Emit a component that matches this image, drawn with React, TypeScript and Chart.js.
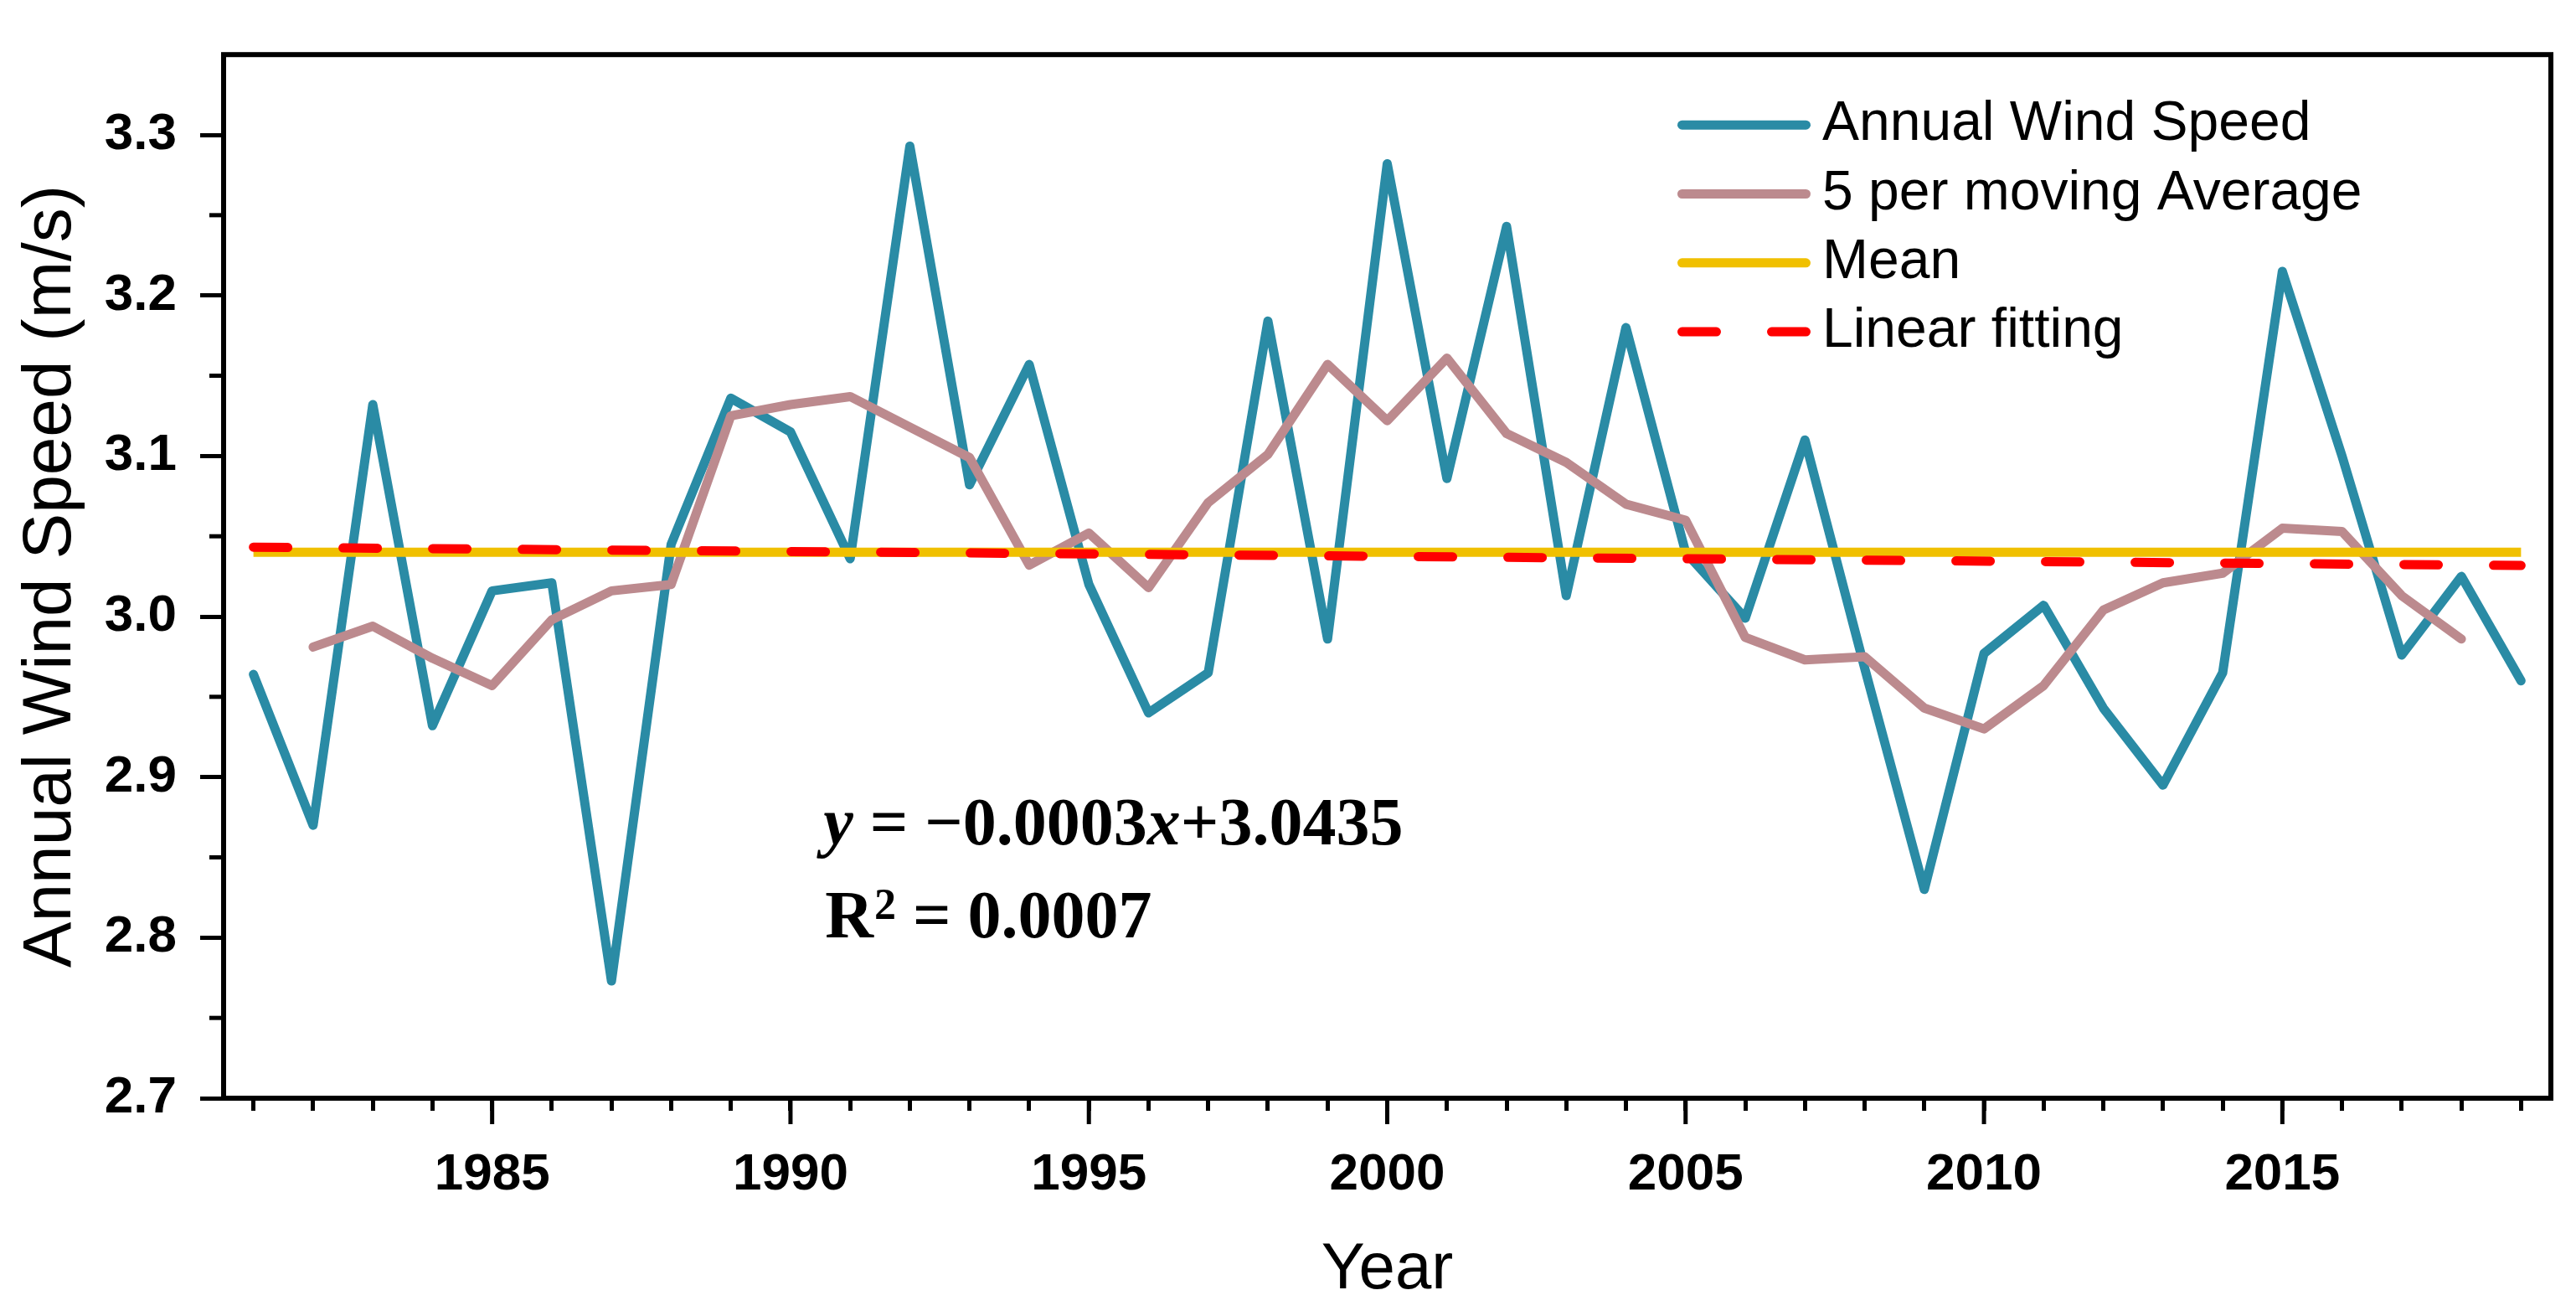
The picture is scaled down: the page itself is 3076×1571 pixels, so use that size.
import React, { useEffect, useRef } from 'react';
import { Chart, registerables } from 'chart.js';

Chart.register(...registerables);

// ---------------- data ----------------
const years = [
  1981, 1982, 1983, 1984, 1985, 1986, 1987, 1988, 1989, 1990,
  1991, 1992, 1993, 1994, 1995, 1996, 1997, 1998, 1999, 2000,
  2001, 2002, 2003, 2004, 2005, 2006, 2007, 2008, 2009, 2010,
  2011, 2012, 2013, 2014, 2015, 2016, 2017, 2018, 2019,
];
const annualWindSpeed = [
  2.964, 2.870, 3.132, 2.932, 3.016, 3.021, 2.773, 3.045, 3.136, 3.115,
  3.036, 3.293, 3.082, 3.157, 3.020, 2.940, 2.965, 3.184, 2.986, 3.282,
  3.086, 3.243, 3.013, 3.180, 3.040, 2.999, 3.110, 2.968, 2.830, 2.977,
  3.007, 2.943, 2.895, 2.965, 3.215, 3.100, 2.976, 3.025, 2.960,
];
const movingAvgYears = [
  1982, 1983, 1984, 1985, 1986, 1987, 1988, 1989, 1990,
  1991, 1992, 1993, 1994, 1995, 1996, 1997, 1998, 1999, 2000,
  2001, 2002, 2003, 2004, 2005, 2006, 2007, 2008, 2009, 2010,
  2011, 2012, 2013, 2014, 2015, 2016, 2017, 2018,
];
const movingAverage = [
  2.981, 2.994, 2.974, 2.957, 2.998, 3.016, 3.020, 3.125, 3.132,
  3.137, 3.118, 3.099, 3.032, 3.052, 3.018, 3.071, 3.101, 3.157, 3.122,
  3.161, 3.114, 3.096, 3.070, 3.060, 2.987, 2.973, 2.975, 2.943, 2.930,
  2.957, 3.004, 3.021, 3.027, 3.055, 3.053, 3.013, 2.986,
];
const meanYears = [1981, 2019];
const meanValues = [3.04, 3.04];
const fitYears = [1981, 2019];
const fitValues = [3.0432, 3.0318];

const seriesLabels = ['Annual Wind Speed', '5 per moving Average', 'Mean', 'Linear fitting'];
const yTickValues = [2.7, 2.8, 2.9, 3.0, 3.1, 3.2, 3.3];
const yMinorTickValues = [2.75, 2.85, 2.95, 3.05, 3.15, 3.25];
const xMajorTickValues = [1985, 1990, 1995, 2000, 2005, 2010, 2015];
const xTitle = 'Year';
const yTitle = 'Annual Wind Speed (m/s)';
const eqLine1 = [
  { t: 'y', italic: true },
  { t: ' = \u22120.0003', italic: false },
  { t: 'x', italic: true },
  { t: '+3.0435', italic: false },
];
const eqR = 'R';
const eqSup = '2';
const eqR2Value = ' = 0.0007';
const eqAnchorYear = 1990.55;
const eqLine1Value = 2.858;
const eqLine2Value = 2.8;

// ---------------- styles ----------------
const SANS = '"Liberation Sans", Arial, sans-serif';
const SERIF = '"Liberation Serif", "Times New Roman", serif';
const BLUE = '#2A8BA5';
const PINK = '#BC8A8E';
const YELLOW = '#F0C000';
const RED = '#FF0000';

const toPoints = (xs: number[], ys: number[]) => xs.map((x, i) => ({ x, y: ys[i] }));

const framePlugin = {
  id: 'frameAndTicks',
  afterDraw(chart: any) {
    const { ctx, chartArea: a, scales } = chart;
    ctx.save();
    ctx.strokeStyle = '#000';
    ctx.lineWidth = 6;
    ctx.strokeRect(a.left, a.top, a.right - a.left, a.bottom - a.top);
    ctx.lineWidth = 5;
    yMinorTickValues.forEach((v) => {
      const p = scales.y.getPixelForValue(v);
      ctx.beginPath();
      ctx.moveTo(a.left - 17, p);
      ctx.lineTo(a.left, p);
      ctx.stroke();
    });
    xMajorTickValues.forEach((v) => {
      const p = scales.x.getPixelForValue(v);
      ctx.beginPath();
      ctx.moveTo(p, a.bottom);
      ctx.lineTo(p, a.bottom + 31);
      ctx.stroke();
    });
    ctx.restore();
  },
};

const legendPlugin = {
  id: 'insideLegend',
  afterDraw(chart: any) {
    const { ctx, chartArea: a } = chart;
    const ds = chart.data.datasets;
    ctx.save();
    ctx.font = `66px ${SANS}`;
    ctx.textBaseline = 'middle';
    ctx.textAlign = 'left';
    ds.forEach((d: any, i: number) => {
      const y = a.top + 84 + i * 82.3;
      const x0 = a.right - 1037.5;
      const x1 = a.right - 889.5;
      ctx.strokeStyle = d.borderColor;
      ctx.lineWidth = 11;
      ctx.lineCap = 'round';
      ctx.setLineDash(d.borderDash || []);
      ctx.beginPath();
      ctx.moveTo(x0, y);
      ctx.lineTo(x1, y);
      ctx.stroke();
      ctx.setLineDash([]);
      ctx.fillStyle = '#000';
      ctx.fillText(d.label, a.right - 870, y);
    });
    ctx.restore();
  },
};

const equationPlugin = {
  id: 'equation',
  afterDatasetsDraw(chart: any) {
    const { ctx, scales } = chart;
    const x0 = scales.x.getPixelForValue(eqAnchorYear);
    const b1 = scales.y.getPixelForValue(eqLine1Value);
    const b2 = scales.y.getPixelForValue(eqLine2Value);
    ctx.save();
    ctx.fillStyle = '#000';
    ctx.textBaseline = 'alphabetic';
    ctx.textAlign = 'left';
    let x = x0;
    eqLine1.forEach((run) => {
      ctx.font = `${run.italic ? 'italic ' : ''}bold 80px ${SERIF}`;
      ctx.fillText(run.t, x, b1);
      x += ctx.measureText(run.t).width;
    });
    x = x0 + 2;
    ctx.font = `bold 80px ${SERIF}`;
    ctx.fillText(eqR, x, b2);
    x += ctx.measureText(eqR).width + 1;
    ctx.font = `bold 52px ${SERIF}`;
    ctx.fillText(eqSup, x, b2 - 22);
    x += ctx.measureText(eqSup).width;
    ctx.font = `bold 80px ${SERIF}`;
    ctx.fillText(eqR2Value, x, b2);
    ctx.restore();
  },
};

export default function App() {
  const canvasRef = useRef<HTMLCanvasElement | null>(null);

  useEffect(() => {
    document.body.style.margin = '0';
    const canvas = canvasRef.current;
    if (!canvas) return;
    Chart.defaults.color = '#000';
    Chart.defaults.font.family = SANS;

    const chart = new Chart(canvas, {
      type: 'line',
      data: {
        datasets: [
          {
            label: seriesLabels[0],
            data: toPoints(years, annualWindSpeed),
            borderColor: BLUE,
            borderWidth: 11,
            pointRadius: 0,
            borderCapStyle: 'round',
            borderJoinStyle: 'round',
            tension: 0,
            order: 4,
          },
          {
            label: seriesLabels[1],
            data: toPoints(movingAvgYears, movingAverage),
            borderColor: PINK,
            borderWidth: 11,
            pointRadius: 0,
            borderCapStyle: 'round',
            borderJoinStyle: 'round',
            tension: 0,
            order: 3,
          },
          {
            label: seriesLabels[2],
            data: toPoints(meanYears, meanValues),
            borderColor: YELLOW,
            borderWidth: 11,
            pointRadius: 0,
            borderCapStyle: 'butt',
            order: 2,
          },
          {
            label: seriesLabels[3],
            data: toPoints(fitYears, fitValues),
            borderColor: RED,
            borderWidth: 11,
            pointRadius: 0,
            borderCapStyle: 'round',
            borderDash: [41, 66],
            order: 1,
          },
        ],
      } as any,
      options: {
        animation: false,
        responsive: true,
        maintainAspectRatio: false,
        devicePixelRatio: 1,
        events: [],
        layout: { padding: { left: 0, top: 28, right: 30, bottom: 0 } },
        plugins: {
          legend: { display: false },
          tooltip: { enabled: false },
        },
        scales: {
          x: {
            type: 'linear',
            position: 'bottom',
            min: 1980.5,
            max: 2019.5,
            afterBuildTicks: (scale: any) => {
              scale.ticks = years.map((v) => ({ value: v }));
            },
            afterFit: (scale: any) => {
              scale.height = 260;
            },
            ticks: {
              autoSkip: false,
              maxRotation: 0,
              padding: 40,
              font: { family: SANS, size: 62, weight: 'bold' },
              color: '#000',
              callback: (v: any) => (xMajorTickValues.includes(Number(v)) ? String(v) : ''),
            },
            grid: {
              display: true,
              drawOnChartArea: false,
              drawTicks: true,
              tickLength: 15,
              tickWidth: 5,
              tickColor: '#000',
            },
            border: { display: false },
            title: {
              display: true,
              text: xTitle,
              color: '#000',
              font: { family: SANS, size: 78, weight: 'normal' },
              padding: { top: 0, bottom: 8 },
            },
          },
          y: {
            type: 'linear',
            min: 2.7,
            max: 3.35,
            afterBuildTicks: (scale: any) => {
              scale.ticks = yTickValues.map((v) => ({ value: v }));
            },
            afterFit: (scale: any) => {
              scale.width = 267;
            },
            ticks: {
              padding: 28,
              font: { family: SANS, size: 62, weight: 'bold' },
              color: '#000',
              callback: (v: any) => Number(v).toFixed(1),
            },
            grid: {
              display: true,
              drawOnChartArea: false,
              drawTicks: true,
              tickLength: 28,
              tickWidth: 5,
              tickColor: '#000',
            },
            border: { display: false },
            title: {
              display: true,
              text: yTitle,
              color: '#000',
              font: { family: SANS, size: 82, weight: 'normal' },
              padding: { top: 12, bottom: 0 },
            },
          },
        },
      } as any,
      plugins: [framePlugin, legendPlugin, equationPlugin],
    });

    return () => {
      chart.destroy();
    };
  }, []);

  return (
    <div style={{ position: 'relative', width: '3076px', height: '1571px', background: '#fff' }}>
      <canvas ref={canvasRef} style={{ display: 'block' }} />
    </div>
  );
}
